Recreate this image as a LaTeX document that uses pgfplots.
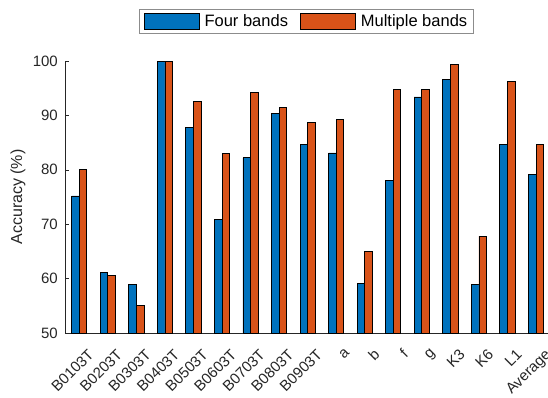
\documentclass[border=0pt]{standalone}
\usepackage{fontspec}
\setmainfont{Liberation Sans}
\usepackage{pgfplots}
\usepackage{pgfplotstable}
\pgfplotsset{compat=1.18}
\definecolor{mblue}{RGB}{0,114,189}
\definecolor{morange}{RGB}{217,83,25}
\definecolor{axgray}{RGB}{38,38,38}
\definecolor{leggray}{RGB}{140,140,140}
\pgfplotstableread{
x four multi
0 75.2 80.1
1 61.2 60.6
2 59.0 55.1
3 100 99.9
4 87.8 92.6
5 70.8 83.0
6 82.2 94.2
7 90.3 91.5
8 84.6 88.7
9 83.1 89.3
10 59.1 65.0
11 78.1 94.8
12 93.4 94.8
13 96.6 99.3
14 59.0 67.8
15 84.6 96.3
16 79.1 84.6
}\data
\begin{document}
\begin{tikzpicture}
\useasboundingbox (-65pt,-64pt) rectangle (483pt,333pt);
\begin{axis}[
  at={(0,0)}, anchor=south west,
  scale only axis, width=483pt, height=272pt,
  xmin=-0.5, xmax=16.42, ymin=50, ymax=100,
  ybar=0pt, bar width=7.6pt,
  axis x line*=bottom, axis y line*=left,
  axis line style={axgray, line width=0.6pt},
  tick style={axgray, line width=0.6pt},
  tick align=inside, major tick length=4pt,
  xtick={0,...,16},
  xticklabels={B0103T,B0203T,B0303T,B0403T,B0503T,B0603T,B0703T,B0803T,B0903T,a,b,f,g,K3,K6,L1,Average},
  ytick={50,60,...,100},
  /pgf/number format/assume math mode=true,
  ticklabel style={font=\fontsize{15}{17}\selectfont, text=axgray},
  xticklabel style={inner sep=0pt, xshift=8pt, yshift=-15pt, rotate=45, anchor=north east},
  yticklabel style={inner sep=0pt, xshift=-7pt},
  ylabel={Accuracy (\%)},
  ylabel style={font=\fontsize{16}{18}\selectfont, text=axgray, at={(axis description cs:-0.0973,0.5)}, anchor=center},
  legend columns=2,
  legend style={at={(axis description cs:0.5,1)}, anchor=south, yshift=27pt,
    draw=leggray, line width=0.8pt, font=\fontsize{16.5}{18}\selectfont,
    inner xsep=4.5pt, inner ysep=3.5pt,
    /tikz/every even column/.append style={column sep=10pt}},
  legend image code/.code={\draw[#1, line width=0.8pt] (0pt,-8pt) rectangle (55pt,8pt); \path (58pt,0pt);},
]
\addplot[fill=mblue, draw=black, line width=0.8pt] table[x=x, y=four] {\data};
\addplot[fill=morange, draw=black, line width=0.8pt] table[x=x, y=multi] {\data};
\legend{Four bands, Multiple bands}
\end{axis}
\end{tikzpicture}
\end{document}
